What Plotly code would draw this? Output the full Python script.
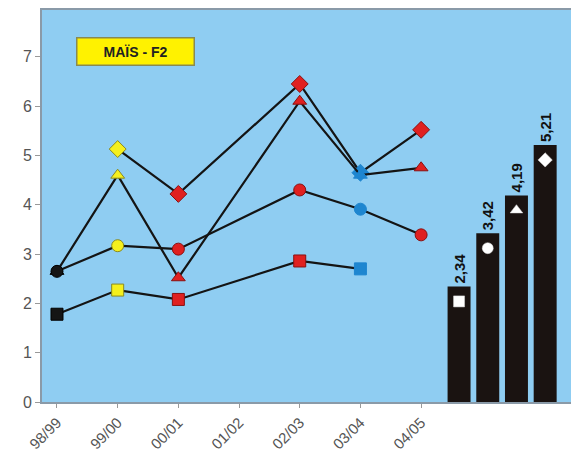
import plotly.graph_objects as go

seasons = ["98/99", "99/00", "00/01", "01/02", "02/03", "03/04", "04/05"]
diamond_vals = [None, 5.13, 4.22, None, 6.45, 4.65, 5.52]
triangle_vals = [2.65, 4.60, 2.52, None, 6.10, 4.60, 4.75]
circle_vals = [2.65, 3.17, 3.10, None, 4.30, 3.91, 3.39]
square_vals = [1.78, 2.27, 2.08, None, 2.86, 2.70, None]
point_colors = ["#151515", "#f5f01e", "#e02020", "#e02020", "#e02020", "#1e86d0", "#e02020"]
point_lines = ["#000000", "#8a8a20", "#8a1010", "#8a1010", "#8a1010", "#1e86d0", "#8a1010"]

bar_names = ["moy1", "moy2", "moy3", "moy4"]
bar_vals = [2.34, 3.42, 4.19, 5.21]
bar_labels = ["2,34", "3,42", "4,19", "5,21"]
bar_symbols = ["square", "circle", "triangle-up", "diamond"]
inner_offset = 0.3

fig = go.Figure()

series = [
    ("Diamants", diamond_vals, "diamond", 13),
    ("Triangles", triangle_vals, "triangle-up", 12),
    ("Cercles", circle_vals, "circle", 12),
    ("Carrés", square_vals, "square", 12),
]
for name, vals, sym, size in series:
    fig.add_trace(go.Scatter(
        x=seasons, y=vals, mode="lines+markers", name=name,
        connectgaps=True,
        line=dict(color="#141414", width=2.2),
        marker=dict(symbol=sym, size=size, color=point_colors,
                    line=dict(color=point_lines, width=1)),
        showlegend=False, xaxis="x", yaxis="y",
    ))

fig.add_trace(go.Bar(
    x=bar_names, y=bar_vals, width=0.8,
    marker=dict(color="#1a1311", line=dict(color="#1a1311", width=0)),
    text=["<b>" + t + "</b>" for t in bar_labels], textposition="outside", textangle=-90,
    constraintext="none",
    textfont=dict(family="Liberation Sans, Arial", size=15, color="#111111"),
    cliponaxis=False,
    xaxis="x2", yaxis="y", showlegend=False,
))
fig.add_trace(go.Scatter(
    x=bar_names, y=[v - inner_offset for v in bar_vals], mode="markers",
    marker=dict(symbol=bar_symbols, size=11, color="white",
                line=dict(color="#dddddd", width=0.5)),
    xaxis="x2", yaxis="y", showlegend=False,
))

fig.update_layout(
    width=571, height=459,
    margin=dict(l=42, r=0, t=10, b=57),
    paper_bgcolor="white",
    plot_bgcolor="#8fcdf2",
    font=dict(family="Liberation Sans, Arial", color="#555555"),
    xaxis=dict(
        type="category", categoryorder="array", categoryarray=seasons,
        range=[-0.247, 8.47], tickangle=-45, ticks="outside", ticklen=4,
        tickcolor="#999999", showline=True, linecolor="#8a9aa8", linewidth=2,
        mirror=True, showgrid=False, zeroline=False,
        tickfont=dict(size=15, color="#555555"),
    ),
    xaxis2=dict(
        type="category", overlaying="x", range=[-14.53, 3.90],
        visible=False, showgrid=False,
    ),
    yaxis=dict(
        range=[0, 7.95], tickvals=[0, 1, 2, 3, 4, 5, 6, 7],
        ticks="outside", ticklen=5, tickcolor="#999999",
        showline=True, linecolor="#8a9aa8", linewidth=2,
        showgrid=False, zeroline=False,
        tickfont=dict(size=16, color="#555555"),
    ),
    bargap=0.2,
    annotations=[dict(
        text="<b>MAÏS - F2</b>", xref="paper", yref="paper",
        x=0.176, y=0.893, xanchor="center", yanchor="middle", showarrow=False,
        font=dict(size=14, color="#222222", family="Liberation Sans, Arial"),
        bgcolor="#fff200", bordercolor="#8a8a50", borderwidth=1.5,
        width=114, height=24,
    )],
)

fig.write_html("out.html", config={"displayModeBar": False},
               post_script="document.body.style.margin='0px';document.body.style.overflow='hidden';")
